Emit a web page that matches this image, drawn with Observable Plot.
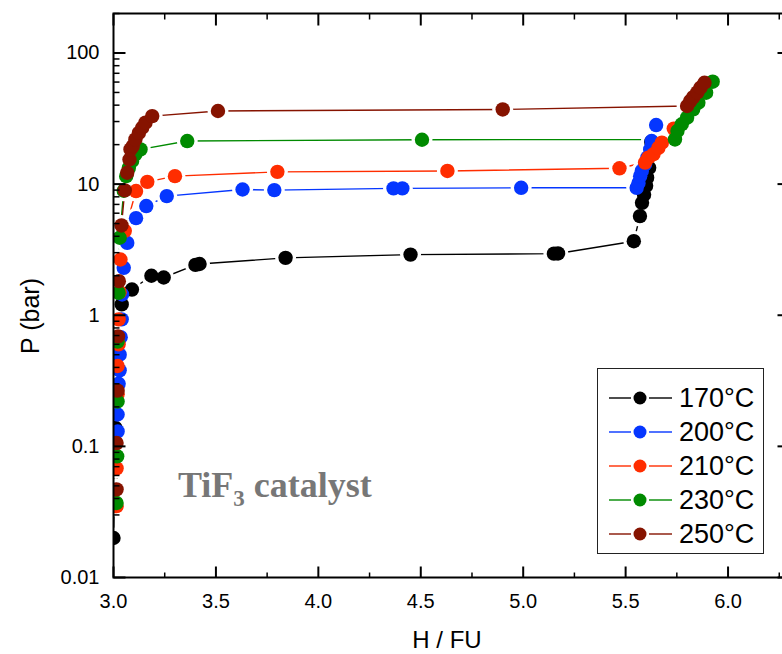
<!DOCTYPE html>
<html>
<head>
<meta charset="utf-8">
<script src="https://cdn.jsdelivr.net/npm/d3@7"></script>
<script src="https://cdn.jsdelivr.net/npm/@observablehq/plot@0.6"></script>
<style>
  html, body { margin: 0; padding: 0; overflow: hidden; background: #fff; }
  #wrap { position: relative; width: 800px; height: 654px; }
  #wrap svg { max-width: none; display: block; }
  .legend { position: absolute; left: 597px; top: 368px; width: 165px; height: 184px;
            border: 1.5px solid #222; background: #fff;
            font-family: "Liberation Sans", Arial, sans-serif; font-size: 27px; color: #000; }
  .legend .row { position: absolute; left: 0; height: 34px; display: flex; align-items: center; }
  .legend .row svg { margin-left: 10px; margin-right: 7px; }
  .note { position: absolute; left: 178px; top: 467px; white-space: nowrap; line-height: 36px;
          font-family: "Liberation Serif", "Times New Roman", serif; font-weight: bold;
          font-size: 36px; color: #777; }
  .note sub { font-size: 23px; vertical-align: -9px; line-height: 0; }
  .title { position: absolute; font-family: "Liberation Sans", Arial, sans-serif; font-size: 25px;
           line-height: 18px; color: #000; white-space: nowrap; }
</style>
</head>
<body>
<div id="wrap"></div>
<script>
// Pressure–composition isotherms, H per formula unit vs. equilibrium pressure (bar)
const h170 = [3.00, 3.01, 3.015, 3.04, 3.09, 3.185, 3.245, 3.40, 3.42, 3.84, 4.45, 5.15, 5.17, 5.54, 5.57, 5.58, 5.59, 5.60, 5.605, 5.615, 5.625];
const p170 = [0.020, 0.138, 0.50, 1.21, 1.57, 2.00, 1.94, 2.42, 2.46, 2.74, 2.90, 2.95, 2.96, 3.67, 5.7, 7.2, 8.3, 9.7, 11.2, 13.3, 21];

const h200 = [3.02, 3.02, 3.025, 3.03, 3.03, 3.035, 3.04, 3.042, 3.05, 3.067, 3.11, 3.16, 3.26, 3.63, 3.785, 4.367, 4.41, 4.99, 5.554, 5.563, 5.571, 5.579, 5.595, 5.606, 5.62, 5.627, 5.649];
const p200 = [0.13, 0.175, 0.30, 0.38, 0.50, 0.68, 0.93, 1.44, 2.3, 3.56, 5.5, 6.8, 8.1, 9.1, 9.0, 9.27, 9.27, 9.37, 9.37, 10.2, 11.5, 12.6, 14.2, 15.9, 18.4, 21.3, 28.2];

const h210 = [3.015, 3.015, 3.02, 3.02, 3.025, 3.025, 3.03, 3.034, 3.055, 3.11, 3.165, 3.30, 3.80, 4.63, 5.47, 5.595, 5.611, 5.636, 5.66, 5.677, 5.735];
const p210 = [0.035, 0.068, 0.25, 0.41, 0.60, 0.93, 1.5, 2.66, 4.4, 8.85, 10.4, 11.5, 12.4, 12.6, 13.2, 14.6, 15.9, 16.9, 18.9, 20.7, 26.5];

const h230 = [3.015, 3.018, 3.02, 3.02, 3.025, 3.03, 3.05, 3.062, 3.075, 3.091, 3.107, 3.132, 3.36, 4.506, 5.741, 5.753, 5.774, 5.80, 5.83, 5.855, 5.893, 5.925];
const p230 = [0.037, 0.084, 0.22, 0.63, 1.48, 3.9, 8.9, 11.5, 13.3, 15.0, 16.9, 18.4, 21.3, 21.8, 21.9, 25.4, 28.6, 32.1, 37.2, 41.8, 49.8, 60.4];

const h250 = [3.015, 3.015, 3.02, 3.022, 3.026, 3.039, 3.055, 3.067, 3.078, 3.083, 3.094, 3.107, 3.124, 3.14, 3.156, 3.189, 3.51, 4.90, 5.80, 5.815, 5.83, 5.85, 5.865, 5.885];
const p250 = [0.047, 0.106, 0.266, 0.69, 1.82, 4.84, 8.95, 12.2, 15.4, 18.4, 19.5, 21.9, 24.6, 26.9, 29.4, 33.0, 36.1, 37.1, 39.4, 43.0, 46.0, 50.0, 54.3, 59.3];

const seriesLabels = ["170°C", "200°C", "210°C", "230°C", "250°C"];
const seriesColors = ["#000000", "#0536ff", "#ff2d00", "#008a00", "#861300"];
const seriesH = [h170, h200, h210, h230, h250];
const seriesP = [p170, p200, p210, p230, p250];

const xTicks = [3.0, 3.5, 4.0, 4.5, 5.0, 5.5, 6.0];
const xTickLabels = ["3.0", "3.5", "4.0", "4.5", "5.0", "5.5", "6.0"];
const xMinor = [3.25, 3.75, 4.25, 4.75, 5.25, 5.75, 6.25];
const yTicks = [0.01, 0.1, 1, 10, 100];
const yTickLabels = ["0.01", "0.1", "1", "10", "100"];
const yMinor = [];
for (const d of [0.01, 0.1, 1, 10, 100]) for (let k = 2; k <= 9; k++) if (k * d <= 200) yMinor.push(+(k * d).toPrecision(3));

const series = seriesLabels.map((label, i) => ({
  label, color: seriesColors[i],
  rows: seriesH[i].map((h, j) => ({h, p: seriesP[i][j]}))
}));

// straight inward tick drawn from the frame edge
const tickShape = {draw(ctx, l) { ctx.moveTo(0, 0); ctx.lineTo(0, -l); }};
const tickMarks = (values, anchor, rotate, length, sw) => Plot.vector(values, {
  [anchor === "left" || anchor === "right" ? "y" : "x"]: d => d,
  frameAnchor: anchor, rotate, length, anchor: "start", shape: tickShape,
  stroke: "#000", strokeWidth: sw, strokeLinecap: "butt"
});

const chart = Plot.plot({
  width: 800, height: 654,
  marginLeft: 113, marginRight: 11, marginTop: 13, marginBottom: 77,
  style: {fontFamily: "Liberation Sans, Arial, sans-serif", fontSize: "20px", color: "#000", maxWidth: "none"},
  x: {domain: [3, 6.3]},
  y: {type: "log", domain: [0.01, 200]},
  marks: [
    ...series.map(s => Plot.line(s.rows, {x: "h", y: "p", stroke: s.color, strokeWidth: 1.4, clip: true})),
    ...series.map(s => Plot.dot(s.rows, {x: "h", y: "p", r: 10.5, fill: "#fff", clip: true})),
    ...series.map(s => Plot.dot(s.rows, {x: "h", y: "p", r: 7.2, fill: s.color, clip: true})),
    Plot.frame({stroke: "#000", strokeWidth: 2}),
    tickMarks(yTicks, "left", 90, 12, 2),
    tickMarks(yMinor, "left", 90, 6, 1.5),
    tickMarks(yTicks, "right", -90, 12, 2),
    tickMarks(yMinor, "right", -90, 6, 1.5),
    tickMarks(xTicks, "bottom", 0, 11, 2),
    tickMarks(xMinor, "bottom", 0, 5, 1.5),
    tickMarks(xTicks, "top", 180, 12, 2),
    tickMarks(xMinor, "top", 180, 6, 1.5),
    Plot.axisX({ticks: xTicks, tickSize: 0, tickPadding: 16, label: null, fontSize: 20,
                tickFormat: d => xTickLabels[xTicks.indexOf(d)]}),
    Plot.axisY({ticks: yTicks, tickSize: 0, tickPadding: 14, label: null, fontSize: 20,
                tickFormat: d => yTickLabels[yTicks.indexOf(d)]})
  ]
});

const wrap = document.getElementById("wrap");
wrap.appendChild(chart);

// axis titles
const yTitle = document.createElement("div");
yTitle.className = "title";
yTitle.textContent = "P (bar)";
yTitle.style.left = "30px"; yTitle.style.top = "316px";
yTitle.style.transform = "translate(-50%, -50%) rotate(-90deg)";
wrap.appendChild(yTitle);

const xTitle = document.createElement("div");
xTitle.className = "title";
xTitle.textContent = "H / FU";
xTitle.style.fontSize = "24px";
xTitle.style.left = "447px"; xTitle.style.top = "631px";
xTitle.style.transform = "translateX(-50%)";
wrap.appendChild(xTitle);

// annotation
const note = document.createElement("div");
note.className = "note";
note.innerHTML = "TiF<sub>3</sub> catalyst";
wrap.appendChild(note);

// legend
const legend = document.createElement("div");
legend.className = "legend";
series.forEach((s, i) => {
  const row = document.createElement("div");
  row.className = "row";
  row.style.top = (12 + i * 34) + "px";
  row.innerHTML =
    `<svg width="64" height="20" viewBox="0 0 64 20">
       <line x1="1" y1="10" x2="23" y2="10" stroke="${s.color}" stroke-width="1.4"/>
       <line x1="41" y1="10" x2="64" y2="10" stroke="${s.color}" stroke-width="1.4"/>
       <circle cx="32" cy="10" r="6.5" fill="${s.color}"/>
     </svg><span>${s.label}</span>`;
  legend.appendChild(row);
});
wrap.appendChild(legend);
</script>
</body>
</html>
